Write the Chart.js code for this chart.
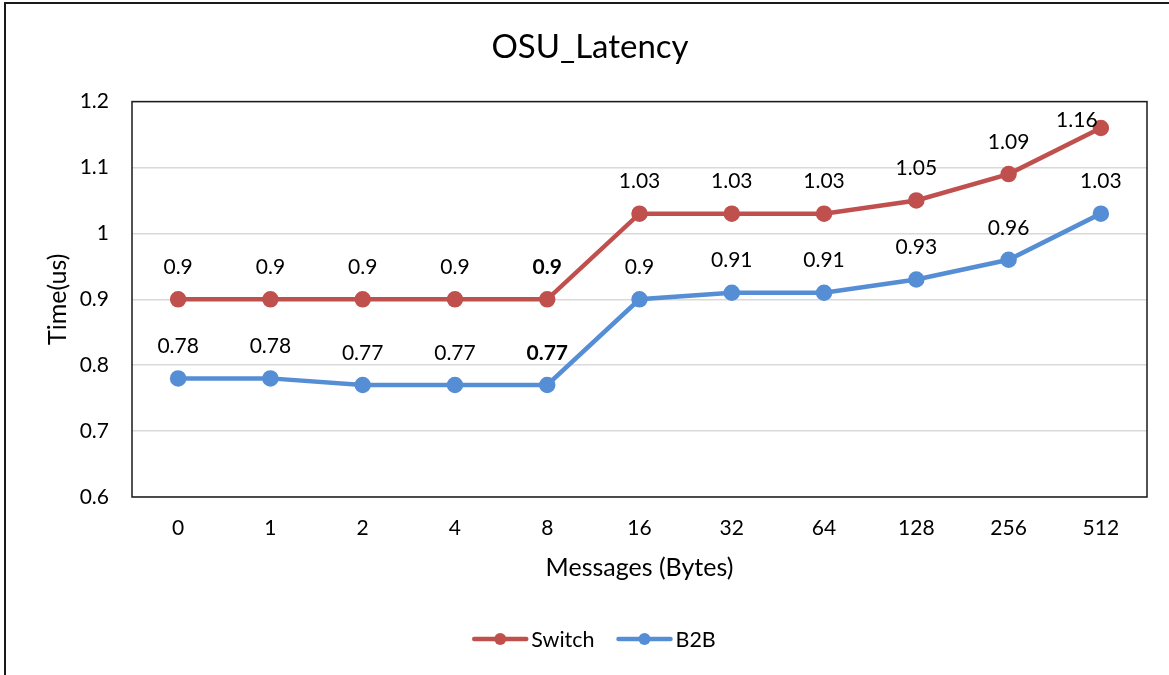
<!DOCTYPE html>
<html>
<head>
<meta charset="utf-8">
<title>OSU_Latency</title>
<script src="https://cdn.jsdelivr.net/npm/chart.js@4.4.1/dist/chart.umd.min.js"></script>
<style>
  html, body { margin: 0; padding: 0; background: #fff; }
  #wrap { width: 1169px; height: 675px; position: relative; }
</style>
</head>
<body>
<div id="wrap"><canvas id="latencyChart"></canvas></div>
<script>
// data
const categories = ["0", "1", "2", "4", "8", "16", "32", "64", "128", "256", "512"];
const switchValues = [0.9, 0.9, 0.9, 0.9, 0.9, 1.03, 1.03, 1.03, 1.05, 1.09, 1.16];
const b2bValues = [0.78, 0.78, 0.77, 0.77, 0.77, 0.9, 0.91, 0.91, 0.93, 0.96, 1.03];
const seriesNames = ["Switch", "B2B"];
const seriesColors = ["#C0504D", "#558ED5"];

const FONT = "Lato, 'Open Sans', sans-serif";

// value labels above each point
const valueLabels = {
  id: "valueLabels",
  afterDatasetsDraw(chart) {
    const ctx = chart.ctx;
    ctx.save();
    ctx.fillStyle = "#000";
    ctx.textAlign = "center";
    ctx.textBaseline = "middle";
    chart.data.datasets.forEach((ds, di) => {
      const meta = chart.getDatasetMeta(di);
      meta.data.forEach((pt, i) => {
        let dx = 0, dy = -32;
        // last Switch label was pushed left/down in the original
        if (di === 0 && i === ds.data.length - 1) { dx = -24; dy = -8; }
        ctx.font = (i === 4 ? "bold " : "") + "21px " + FONT;
        ctx.fillText(String(ds.data[i]), pt.x + dx, pt.y + dy);
      });
    });
    ctx.restore();
  }
};

// plot frame, outer frame and legend
const frames = {
  id: "frames",
  beforeDraw(chart) {
    const ctx = chart.ctx;
    ctx.save();
    ctx.strokeStyle = "#1a1a1a";
    ctx.lineWidth = 2;
    ctx.beginPath();
    ctx.moveTo(5, 675);
    ctx.lineTo(5, 3);
    ctx.lineTo(1169, 3);
    ctx.stroke();
    ctx.restore();
  },
  afterDraw(chart) {
    const ctx = chart.ctx;
    const a = chart.chartArea;
    ctx.save();
    ctx.strokeStyle = "#1a1a1a";
    ctx.lineWidth = 1.5;
    ctx.strokeRect(a.left, a.top, a.right - a.left, a.bottom - a.top);

    // legend
    ctx.font = "21.5px " + FONT;
    ctx.textBaseline = "middle";
    ctx.textAlign = "left";
    const y = 639;
    const lineLen = 56, gap = 3, itemGap = 22;
    const widths = seriesNames.map(n => lineLen + gap + ctx.measureText(n).width);
    const total = widths.reduce((s, w) => s + w, 0) + itemGap * (widths.length - 1);
    let x = 594 - total / 2;
    seriesNames.forEach((name, i) => {
      ctx.strokeStyle = seriesColors[i];
      ctx.fillStyle = seriesColors[i];
      ctx.lineWidth = 4.5;
      ctx.lineCap = "round";
      ctx.beginPath();
      ctx.moveTo(x + 2, y);
      ctx.lineTo(x + lineLen - 2, y);
      ctx.stroke();
      ctx.beginPath();
      ctx.arc(x + lineLen / 2, y, 6, 0, Math.PI * 2);
      ctx.fill();
      ctx.fillStyle = "#000";
      ctx.fillText(name, x + lineLen + gap, y + 1);
      x += widths[i] + itemGap;
    });
    ctx.restore();
  }
};

function makeDataset(label, values, color) {
  return {
    label,
    data: values,
    borderColor: color,
    backgroundColor: color,
    pointBackgroundColor: color,
    pointBorderColor: color,
    borderWidth: 4.5,
    pointRadius: 6,
    pointHoverRadius: 6,
    tension: 0
  };
}

new Chart(document.getElementById("latencyChart"), {
  type: "line",
  data: {
    labels: categories,
    datasets: [
      makeDataset(seriesNames[0], switchValues, seriesColors[0]),
      makeDataset(seriesNames[1], b2bValues, seriesColors[1])
    ]
  },
  options: {
    responsive: true,
    maintainAspectRatio: false,
    animation: false,
    layout: { padding: { left: 33, right: 22, top: 0, bottom: 0 } },
    plugins: {
      legend: { display: false },
      tooltip: { enabled: false },
      title: {
        display: true,
        text: "OSU_Latency",
        color: "#000",
        font: { family: FONT, size: 33, weight: "normal", lineHeight: 1.2 },
        padding: { top: 28, bottom: 34 }
      }
    },
    scales: {
      x: {
        offset: true,
        grid: { display: false, drawTicks: false },
        border: { display: false },
        ticks: { color: "#000", padding: 19, font: { family: FONT, size: 21 } },
        title: {
          display: true,
          text: "Messages (Bytes)",
          color: "#000",
          font: { family: FONT, size: 25, lineHeight: 1.2 },
          padding: { top: 0, bottom: 92 }
        },
        afterFit(scale) { scale.height = 178; }
      },
      y: {
        min: 0.6,
        max: 1.2,
        grid: { color: "#d9d9d9", lineWidth: 1.5, drawTicks: false },
        border: { display: false },
        ticks: {
          stepSize: 0.1,
          color: "#000",
          padding: 23,
          font: { family: FONT, size: 21 },
          callback: v => String(Math.round(v * 10) / 10)
        },
        title: {
          display: true,
          text: "Time(us)",
          color: "#000",
          font: { family: FONT, size: 25, lineHeight: 1.2 },
          padding: { top: 10, bottom: 0 }
        },
        afterFit(scale) { scale.width = 99; }
      }
    }
  },
  plugins: [valueLabels, frames]
});
</script>
</body>
</html>
